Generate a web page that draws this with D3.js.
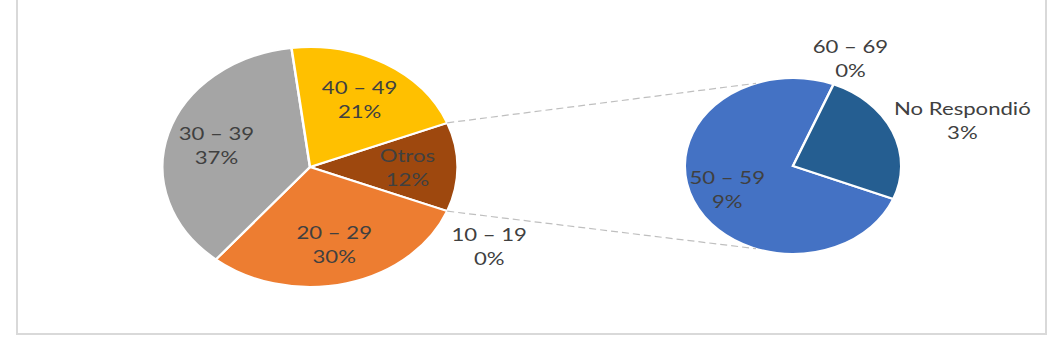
<!DOCTYPE html>
<html>
<head>
<meta charset="utf-8">
<script src="https://cdn.jsdelivr.net/npm/d3@7"></script>
<style>
body { margin: 0; background: #fff; }
svg text { font-family: Lato, "Open Sans", sans-serif; font-size: 18px; fill: #404040; }
</style>
</head>
<body>
<script>
// first pie, age ranges; "Otros" is broken out in the second pie
var mainLabels = ["Otros", "10 – 19", "20 – 29", "30 – 39", "40 – 49"];
var mainValues = [12, 0, 30, 37, 21];
var mainColors = ["#9e480e", "#4472c4", "#ed7d31", "#a5a5a5", "#ffc000"];

// second pie, what is inside "Otros"
var subLabels = ["50 – 59", "60 – 69", "No Respondió"];
var subValues = [9, 0, 3];
var subColors = ["#4472c4", "#70ad47", "#255e91"];

var width = 1062, height = 351;
var sx = 1.23; // the original is stretched sideways
var deg = Math.PI / 180;

var svg = d3.select("body").append("svg")
    .attr("width", width)
    .attr("height", height);

svg.append("rect")
    .attr("x", 17).attr("y", -10)
    .attr("width", 1029).attr("height", 344)
    .attr("fill", "none")
    .attr("stroke", "#d9d9d9")
    .attr("stroke-width", 2);

var mainPie = {cx: 310, cy: 167, r: 120};
var subPie = {cx: 793, cy: 166, r: 88};

// "Otros" sits centred on the right side of the first pie
var mainStart = 90 * deg - mainValues[0] / d3.sum(mainValues) * Math.PI;
var subStart = 112 * deg;

function point(p, a, r) {
    return [p.cx + sx * r * Math.sin(a), p.cy - r * Math.cos(a)];
}

function drawPie(p, values, colors, start) {
    var arcs = d3.pie().sort(null).value(function(d) { return d; })
        .startAngle(start).endAngle(start + 2 * Math.PI)(values);
    var arc = d3.arc().innerRadius(0).outerRadius(p.r);
    svg.append("g")
        .attr("transform", "translate(" + p.cx + "," + p.cy + ")scale(" + sx + ",1)")
        .selectAll("path")
        .data(arcs.filter(function(d) { return d.value > 0; }))
        .enter().append("path")
        .attr("d", arc)
        .attr("fill", function(d) { return colors[d.index]; })
        .attr("stroke", "#fff")
        .attr("stroke-width", 2);
    return arcs;
}

var mainArcs = drawPie(mainPie, mainValues, mainColors, mainStart);
var subArcs = drawPie(subPie, subValues, subColors, subStart);

// dashed links from the edges of "Otros" to the second pie
var spread = 70 * deg;
var links = [
    [point(mainPie, mainArcs[0].startAngle, mainPie.r), point(subPie, 270 * deg + spread, subPie.r)],
    [point(mainPie, mainArcs[0].endAngle, mainPie.r), point(subPie, 270 * deg - spread, subPie.r)]
];

svg.selectAll("line.link")
    .data(links)
    .enter().append("line")
    .attr("class", "link")
    .attr("x1", function(d) { return d[0][0]; })
    .attr("y1", function(d) { return d[0][1]; })
    .attr("x2", function(d) { return d[1][0]; })
    .attr("y2", function(d) { return d[1][1]; })
    .attr("stroke", "#bfbfbf")
    .attr("stroke-width", 1.2)
    .attr("stroke-dasharray", "7,4");

// push an outside label off a link line if they cross
function clearLinks(b) {
    links.forEach(function(l) {
        var xa = Math.min(l[0][0], l[1][0]), xb = Math.max(l[0][0], l[1][0]);
        var x0 = Math.max(b.x - b.w / 2, xa), x1 = Math.min(b.x + b.w / 2, xb);
        if (x0 > x1) return;
        var yAt = function(x) {
            return l[0][1] + (x - l[0][0]) * (l[1][1] - l[0][1]) / (l[1][0] - l[0][0]);
        };
        var lo = Math.min(yAt(x0), yAt(x1)), hi = Math.max(yAt(x0), yAt(x1));
        if (b.y + b.h / 2 < lo || b.y - b.h / 2 > hi) return;
        if (b.y > yAt((x0 + x1) / 2)) b.y = hi + 2 + b.h / 2;
        else b.y = lo - 2 - b.h / 2;
    });
}

function drawLabels(p, labels, arcs) {
    arcs.forEach(function(d) {
        var t = svg.append("text").attr("text-anchor", "middle");
        t.append("tspan").attr("x", 0).attr("y", -12)
            .attr("dominant-baseline", "central").text(labels[d.index]);
        t.append("tspan").attr("x", 0).attr("y", 12)
            .attr("dominant-baseline", "central").text(d.value + "%");
        var bb = t.node().getBBox();
        var b = {w: bb.width * sx, h: bb.height};
        var span = d.endAngle - d.startAngle;
        var mid = (d.startAngle + d.endAngle) / 2;
        var rho = 0.66 * p.r;
        // best fit: inside if the slice is wide enough at the label radius
        var room = span >= Math.PI ? Infinity : 2 * rho * Math.sin(span / 2) * sx;
        if (d.value > 0 && room >= b.w) {
            var c = point(p, mid, rho);
            b.x = c[0]; b.y = c[1];
        } else {
            var e = point(p, mid, p.r + 6);
            b.x = e[0] + b.w / 2 * Math.sin(mid);
            b.y = e[1] - b.h / 2 * Math.cos(mid);
            clearLinks(b);
        }
        t.attr("transform", "translate(" + b.x + "," + b.y + ")scale(" + sx + ",1)");
    });
}

drawLabels(mainPie, mainLabels, mainArcs);
drawLabels(subPie, subLabels, subArcs);
</script>
</body>
</html>
